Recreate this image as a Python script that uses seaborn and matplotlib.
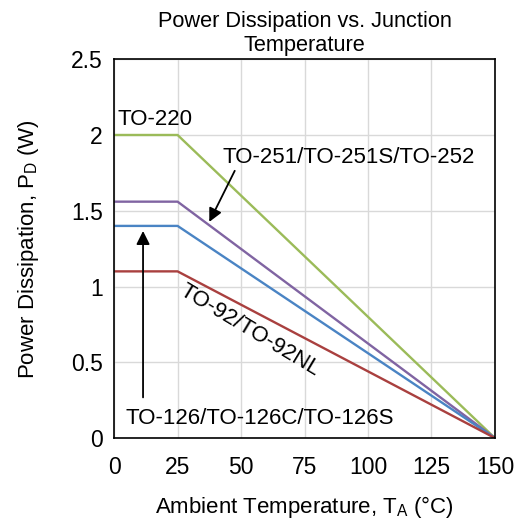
import pandas as pd
import matplotlib.pyplot as plt
import seaborn as sns

# Datos de la curva de derating
temp_ambiente = [0, 25, 150]
pd_to220 = [2.0, 2.0, 0.0]
pd_to251 = [1.56, 1.56, 0.0]
pd_to126 = [1.4, 1.4, 0.0]
pd_to92 = [1.1, 1.1, 0.0]

paquetes = ['TO-220', 'TO-251', 'TO-126', 'TO-92']
colores = ['#9BBB59', '#8064A2', '#4A84C4', '#A9403F']

df = pd.DataFrame({
    'T': temp_ambiente * 4,
    'P': pd_to220 + pd_to251 + pd_to126 + pd_to92,
    'paquete': [p for p in paquetes for _ in temp_ambiente],
})

sns.set_style('white')
plt.rcParams['font.family'] = ['Liberation Sans', 'DejaVu Sans']
plt.rcParams['mathtext.default'] = 'regular'
plt.rcParams['text.color'] = 'black'
plt.rcParams['axes.labelcolor'] = 'black'
plt.rcParams['xtick.color'] = 'black'
plt.rcParams['ytick.color'] = 'black'

fig = plt.figure(figsize=(5.21, 5.24), dpi=100)
ax = fig.add_axes([0.219, 0.164, 0.731, 0.723])

ax.set_xticks(range(0, 151, 25))
ax.set_yticks([0, 0.5, 1, 1.5, 2, 2.5])
ax.grid(True, color='#d9d9d9', linewidth=1.0)
ax.set_axisbelow(True)

sns.lineplot(data=df, x='T', y='P', hue='paquete', palette=colores,
             hue_order=paquetes, linewidth=1.7, legend=False, ax=ax)

ax.set_xlim(0, 150)
ax.set_ylim(0, 2.5)
ax.set_yticklabels(['0', '0.5', '1', '1.5', '2', '2.5'])
for s in ax.spines.values():
    s.set_color('black')
    s.set_linewidth(1.2)
ax.tick_params(axis='x', labelsize=16.5, length=0, pad=13)
ax.tick_params(axis='y', labelsize=16.5, length=0, pad=8)

ax.set_title('Power Dissipation vs. Junction\nTemperature', fontsize=15.7, pad=6)
ax.set_xlabel('Ambient Temperature, T$_A$ (°C)', fontsize=16, labelpad=11)
ax.set_ylabel('Power Dissipation, P$_D$ (W)', fontsize=16, labelpad=22)

# Etiquetas y flechas
ax.text(1.5, 2.1, 'TO-220', fontsize=16, va='center', ha='left')
ax.text(42.5, 1.85, 'TO-251/TO-251S/TO-252', fontsize=16, va='center', ha='left')
ax.text(4.3, 0.13, 'TO-126/TO-126C/TO-126S', fontsize=16, va='center', ha='left')
ax.text(53.5, 0.71, 'TO-92/TO-92NL', fontsize=16, va='center', ha='center',
        rotation=-31)
ax.annotate('', xy=(37, 1.41), xytext=(48, 1.78),
            arrowprops=dict(arrowstyle='-|>', color='black', lw=1.3,
                            mutation_scale=20))
ax.annotate('', xy=(11.4, 1.385), xytext=(11.4, 0.25),
            arrowprops=dict(arrowstyle='-|>', color='black', lw=1.3,
                            mutation_scale=20))

fig.savefig('out.png', dpi=100)
